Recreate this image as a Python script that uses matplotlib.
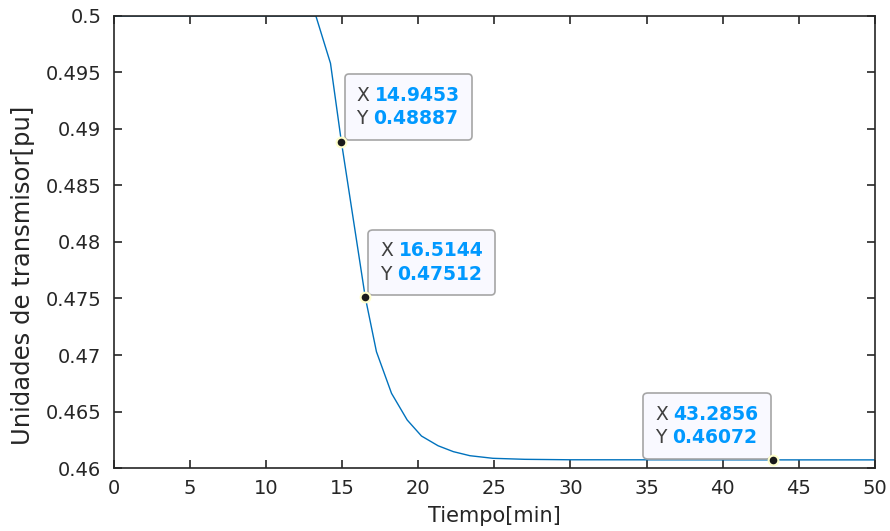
import matplotlib
matplotlib.use("Agg")
import matplotlib.pyplot as plt
from matplotlib.ticker import FuncFormatter, MultipleLocator
from matplotlib.offsetbox import TextArea, HPacker, VPacker, AnnotationBbox

# curve
tiempo = [0, 13.27, 14.23, 14.9453, 15.73, 16.5144, 17.25, 18.24, 19.27, 20.21,
          21.3, 22.3, 23.39, 24.9, 27.0, 30.0, 43.2856, 50.0]
unidades = [0.5, 0.5, 0.49581, 0.48887, 0.4820, 0.47512, 0.47029, 0.46661, 0.46425,
            0.46283, 0.46197, 0.46145, 0.46109, 0.46086, 0.46077, 0.46073, 0.46072, 0.46072]

# data tips
tip_x = [14.9453, 16.5144, 43.2856]
tip_y = [0.48887, 0.47512, 0.46072]
tip_xlbl = ["14.9453", "16.5144", "43.2856"]
tip_ylbl = ["0.48887", "0.47512", "0.46072"]
tip_off = [(10.8, 9.8), (10.8, 9.8), (-10, 9.3)]
tip_align = [(0, 0), (0, 0), (1, 0)]

dark = "#262626"
fig = plt.figure(figsize=(8.9, 5.31), dpi=100)
ax = fig.add_axes([0.128, 0.1186, 0.855, 0.8514])

ax.plot(tiempo, unidades, color="#0072BD", lw=1.0)
ax.plot(tip_x, tip_y, "o", ms=7, mfc="#1a1a1a", mec="#ffffcc", mew=1.5, zorder=7)

ax.set_xlim(0, 50)
ax.set_ylim(0.46, 0.5)
ax.xaxis.set_major_locator(MultipleLocator(5))
ax.yaxis.set_major_locator(MultipleLocator(0.005))
ax.yaxis.set_major_formatter(FuncFormatter(lambda v, p: "%g" % round(v, 4)))
ax.tick_params(direction="in", length=6, width=1.2, top=True, right=True,
               labelsize=14, colors=dark)
ax.tick_params(axis="y", pad=9)
ax.tick_params(axis="x", pad=8)
for s in ax.spines.values():
    s.set_color(dark)
    s.set_linewidth(1.2)
for lab in ax.get_xticklabels() + ax.get_yticklabels():
    lab.set_family("DejaVu Sans")

ax.set_xlabel("Tiempo[min]", fontsize=15, color=dark, family="DejaVu Sans", labelpad=6)
ax.set_ylabel("Unidades de transmisor[pu]", fontsize=17.5, color=dark,
              family="DejaVu Sans")
ax.yaxis.set_label_coords(-0.104, 0.426)

for i in range(len(tip_x)):
    rows = []
    for letter, val in [("X", tip_xlbl[i]), ("Y", tip_ylbl[i])]:
        a = TextArea(letter, textprops=dict(color="#404040", fontsize=13.5, family="DejaVu Sans"))
        b = TextArea(val, textprops=dict(color="#0099FF", fontsize=13.5, fontweight="bold",
                                         family="DejaVu Sans"))
        rows.append(HPacker(children=[a, b], pad=0, sep=4, align="baseline"))
    box = VPacker(children=rows, pad=0, sep=3, align="left")
    ab = AnnotationBbox(box, (tip_x[i], tip_y[i]), xybox=tip_off[i], xycoords="data",
                        boxcoords="offset points", box_alignment=tip_align[i], pad=0,
                        bboxprops=dict(boxstyle="round,pad=0.85,rounding_size=0.3",
                                       fc="#f9f9ff", ec="#a6a6a6", lw=1.2),
                        zorder=6)
    ax.add_artist(ab)

fig.savefig("out.png", dpi=100)
